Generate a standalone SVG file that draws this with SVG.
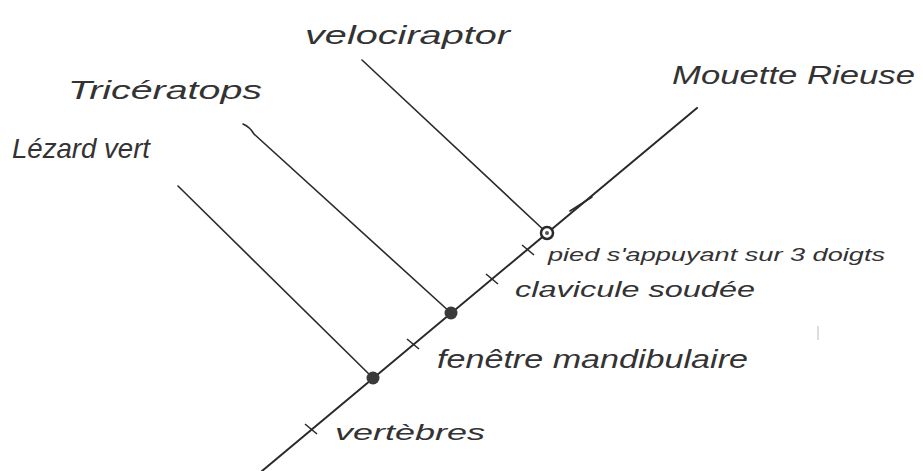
<svg xmlns="http://www.w3.org/2000/svg" width="923" height="471" viewBox="0 0 923 471">
<style>
.ln{stroke:#2a2a2a;stroke-width:1.6;fill:none;stroke-linecap:round}
.main{stroke-width:2}
.tk{stroke:#2a2a2a;stroke-width:1.6;fill:none}
.t{font-family:"Liberation Sans","DejaVu Sans",sans-serif;fill:#333;font-style:italic}
.nm{font-size:25px}
.ch{font-size:22px}
</style>
<rect width="923" height="471" fill="#ffffff"/>
<g id="connectors">
  <line class="ln main" x1="262" y1="471" x2="697" y2="108"/>
  <line class="ln" x1="570" y1="211" x2="592" y2="197" stroke-width="3"/>
  <line class="ln" x1="178" y1="186" x2="373" y2="378"/>
  <path class="ln" d="M243,124 Q250,127 254,134 L451,313"/>
  <line class="ln" x1="362" y1="60" x2="547" y2="233"/>
</g>
<g id="node-lezard">
  <circle cx="373" cy="378" r="6.5" fill="#3a3a3a"/>
</g>
<g id="node-triceratops">
  <circle cx="451" cy="313" r="6.5" fill="#3a3a3a"/>
</g>
<g id="node-velociraptor">
  <circle cx="547" cy="233" r="6" fill="#ffffff" stroke="#2a2a2a" stroke-width="2.5"/>
  <circle cx="547" cy="233" r="2" fill="#555"/>
</g>
<g id="ticks">
  <line class="tk" x1="305" y1="424" x2="317" y2="434"/>
  <line class="tk" x1="407" y1="339" x2="419" y2="349"/>
  <line class="tk" x1="486" y1="274" x2="498" y2="284"/>
  <line class="tk" x1="522" y1="245" x2="534" y2="255"/>
</g>
<g id="labels">
  <text class="t nm" x="305" y="44" textLength="205" lengthAdjust="spacingAndGlyphs">velociraptor</text>
  <text class="t nm" x="68" y="99" textLength="194" lengthAdjust="spacingAndGlyphs">Tricératops</text>
  <text class="t" font-size="28" x="12" y="158" textLength="138" lengthAdjust="spacingAndGlyphs">Lézard vert</text>
  <text class="t nm" x="672" y="84" textLength="243" lengthAdjust="spacingAndGlyphs">Mouette Rieuse</text>
  <text class="t" font-size="19" x="548" y="261" textLength="337" lengthAdjust="spacingAndGlyphs">pied s'appuyant sur 3 doigts</text>
  <text class="t ch" x="515" y="297" textLength="240" lengthAdjust="spacingAndGlyphs">clavicule soudée</text>
  <text class="t nm" x="437" y="368" textLength="311" lengthAdjust="spacingAndGlyphs">fenêtre mandibulaire</text>
  <text class="t ch" x="335" y="440" textLength="150" lengthAdjust="spacingAndGlyphs">vertèbres</text>
</g>
<line x1="818" y1="326" x2="818" y2="340" stroke="#bbb" stroke-width="1"/>
</svg>
